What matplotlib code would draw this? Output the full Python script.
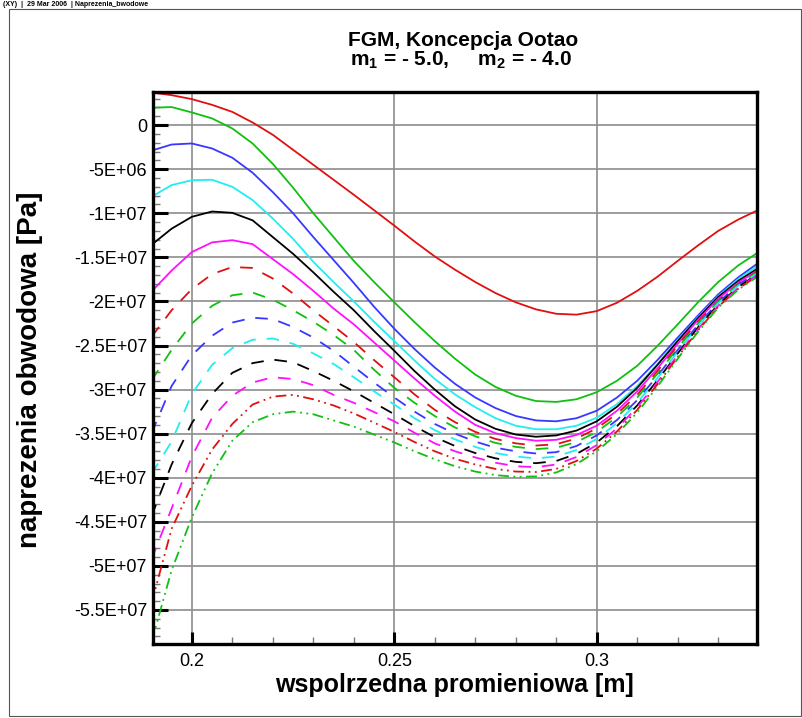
import numpy as np
import matplotlib.pyplot as plt
from matplotlib.ticker import MultipleLocator

plt.rcParams['font.family'] = ['Liberation Sans', 'DejaVu Sans']
plt.rcParams['mathtext.fontset'] = 'custom'
plt.rcParams['mathtext.rm'] = 'Liberation Sans:bold'
plt.rcParams['mathtext.it'] = 'Liberation Sans:bold'
plt.rcParams['mathtext.bf'] = 'Liberation Sans:bold'

# wspolrzedna promieniowa [m]
r = [0.19, 0.195, 0.2, 0.205, 0.21, 0.215, 0.22, 0.225, 0.23, 0.235, 0.24,
     0.245, 0.25, 0.255, 0.26, 0.265, 0.27, 0.275, 0.28, 0.285, 0.29,
     0.295, 0.3, 0.305, 0.31, 0.315, 0.32, 0.325, 0.33, 0.335, 0.34]

# naprezenia obwodowe [MPa], linie ciagle
s_red = [3.7, 3.4, 2.95, 2.3, 1.5, 0.3, -1.1, -2.8, -4.5, -6.2, -7.9,
         -9.65, -11.4, -13.2, -14.9, -16.4, -17.8, -19.05, -20.1, -20.9, -21.4,
         -21.5, -21.1, -20.15, -18.8, -17.2, -15.4, -13.65, -12.0, -10.7, -9.6]
s_green = [1.97, 2.05, 1.44, 0.76, -0.38, -2.08, -4.4, -7.1, -10.0, -12.7, -15.4,
           -17.8, -20.1, -22.35, -24.5, -26.5, -28.3, -29.7, -30.7, -31.3, -31.4,
           -31.1, -30.3, -29.0, -27.3, -25.05, -22.6, -20.1, -17.8, -15.9, -14.4]
s_blue = [-2.9, -2.2, -2.08, -2.65, -3.7, -5.4, -7.6, -10.0, -12.7, -15.3, -17.9,
          -20.6, -23.1, -25.4, -27.5, -29.35, -30.9, -32.1, -33.0, -33.5, -33.6,
          -33.25, -32.4, -30.9, -29.0, -26.65, -24.1, -21.6, -19.2, -17.25, -15.6]
s_cyan = [-8.15, -6.8, -6.25, -6.2, -7.0, -8.5, -10.6, -12.9, -15.5, -17.8, -20.0,
          -22.3, -24.5, -26.7, -28.8, -30.55, -32.0, -33.25, -34.1, -34.5, -34.5,
          -34.1, -33.2, -31.65, -29.6, -27.1, -24.4, -21.8, -19.4, -17.45, -15.9]
s_black = [-13.6, -11.75, -10.4, -9.8, -9.95, -10.8, -12.7, -14.6, -16.7, -18.9, -21.0,
           -23.35, -25.6, -27.9, -30.0, -31.9, -33.4, -34.45, -35.1, -35.35, -35.2,
           -34.65, -33.6, -31.95, -29.8, -27.2, -24.5, -21.9, -19.5, -17.65, -16.2]
s_magenta = [-18.9, -16.5, -14.4, -13.3, -13.05, -13.5, -15.2, -16.9, -18.8, -20.8, -22.6,
             -24.65, -26.7, -28.75, -30.7, -32.5, -34.0, -34.95, -35.5, -35.8, -35.7,
             -35.15, -34.1, -32.4, -30.2, -27.6, -24.8, -22.1, -19.7, -17.85, -16.4]

# linie przerywane
d_red = [-24.05, -21.0, -18.6, -16.9, -16.1, -16.2, -17.4, -19.1, -21.0, -22.8, -24.6,
         -26.65, -28.6, -30.55, -32.3, -33.7, -34.8, -35.6, -36.1, -36.35, -36.2,
         -35.55, -34.4, -32.75, -30.6, -27.9, -25.0, -22.3, -19.9, -18.0, -16.5]
d_green = [-29.0, -25.5, -22.5, -20.5, -19.3, -19.0, -19.8, -21.0, -22.3, -23.8, -25.5,
           -27.75, -29.8, -31.5, -33.0, -34.3, -35.3, -36.05, -36.5, -36.75, -36.6,
           -35.95, -34.8, -33.1, -30.9, -28.2, -25.3, -22.5, -20.0, -18.05, -16.6]
d_blue = [-35.0, -29.6, -26.1, -23.9, -22.4, -21.85, -22.0, -22.9, -24.1, -25.6, -27.4,
          -29.2, -30.9, -32.5, -33.9, -35.0, -35.9, -36.6, -37.0, -37.25, -37.1,
          -36.4, -35.2, -33.45, -31.2, -28.45, -25.5, -22.65, -20.1, -18.1, -16.6]
d_cyan = [-39.6, -35.9, -30.5, -27.2, -25.3, -24.35, -24.2, -24.8, -25.9, -27.1, -28.6,
          -30.2, -31.7, -33.25, -34.6, -35.65, -36.5, -37.2, -37.6, -37.8, -37.6,
          -36.85, -35.6, -33.8, -31.5, -28.7, -25.7, -22.8, -20.2, -18.2, -16.7]
d_black = [-44.4, -38.5, -33.8, -30.5, -28.1, -27.0, -26.6, -26.9, -27.9, -29.0, -30.2,
           -31.5, -32.8, -34.15, -35.4, -36.4, -37.2, -37.8, -38.2, -38.35, -38.1,
           -37.3, -36.0, -34.15, -31.8, -28.95, -25.9, -22.95, -20.35, -18.35, -16.8]
d_magenta = [-49.3, -43.5, -37.6, -33.2, -30.7, -29.2, -28.6, -28.8, -29.5, -30.6, -31.5,
             -32.55, -33.6, -34.9, -36.1, -37.0, -37.7, -38.3, -38.7, -38.8, -38.5,
             -37.65, -36.3, -34.4, -32.0, -29.15, -26.1, -23.15, -20.5, -18.45, -16.9]

# linie kreska-kropka-kropka
dd_red = [-54.3, -45.8, -40.9, -36.8, -33.9, -31.7, -30.8, -30.6, -31.1, -31.8, -32.7,
          -33.75, -34.8, -35.95, -37.0, -37.85, -38.5, -39.0, -39.3, -39.35, -39.0,
          -38.1, -36.7, -34.75, -32.3, -29.4, -26.3, -23.3, -20.6, -18.55, -17.0]
dd_green = [-58.7, -50.5, -44.5, -39.5, -35.8, -33.7, -32.8, -32.5, -32.8, -33.5, -34.2,
            -35.1, -36.0, -37.0, -37.9, -38.7, -39.3, -39.7, -39.9, -39.85, -39.4,
            -38.45, -37.0, -35.05, -32.6, -29.65, -26.5, -23.45, -20.7, -18.65, -17.1]

ytick_vals = [0, -5e6, -1e7, -1.5e7, -2e7, -2.5e7, -3e7, -3.5e7, -4e7, -4.5e7, -5e7, -5.5e7]
ytick_labels = ['0', '-5E+06', '-1E+07', '-1.5E+07', '-2E+07', '-2.5E+07', '-3E+07',
                '-3.5E+07', '-4E+07', '-4.5E+07', '-5E+07', '-5.5E+07']
xtick_vals = [0.2, 0.25, 0.3]
xtick_labels = ['0.2', '0.25', '0.3']

red = '#e01010'
green = '#10c010'
blue = '#3838ff'
cyan = '#20eef0'
black = '#000000'
magenta = '#ff10ff'

dash = (0, (7, 6))
dashdotdot = (0, (6, 2.5, 1, 2.5, 1, 2.5))

curves = [
    (s_red, red, '-'), (s_green, green, '-'), (s_blue, blue, '-'),
    (s_cyan, cyan, '-'), (s_black, black, '-'), (s_magenta, magenta, '-'),
    (d_red, red, dash), (d_green, green, dash), (d_blue, blue, dash),
    (d_cyan, cyan, dash), (d_black, black, dash), (d_magenta, magenta, dash),
    (dd_red, red, dashdotdot), (dd_green, green, dashdotdot),
]

fig = plt.figure(figsize=(8.03, 7.18), dpi=100)
ax = fig.add_axes([0.190, 0.1026, 0.7523, 0.7688])

x = np.array(r)
for vals, col, ls in curves:
    ax.plot(x, np.array(vals) * 1e6, color=col, linestyle=ls, linewidth=1.3)

ax.set_xlim(0.1903, 0.3395)
ax.set_ylim(-5.89e7, 3.72e6)

ax.set_xticks(xtick_vals)
ax.set_xticklabels(xtick_labels)
ax.set_yticks(ytick_vals)
ax.set_yticklabels(ytick_labels)
ax.xaxis.set_minor_locator(MultipleLocator(0.01))
ax.yaxis.set_minor_locator(MultipleLocator(1e6))

ax.grid(True, which='major', color='#8c8c8c', linewidth=1.2)
ax.set_axisbelow(True)

ax.tick_params(which='major', direction='in', length=11, width=2.2, color='black',
               labelsize=13, top=False, right=False)
ax.tick_params(axis='x', which='major', length=9, pad=6)
ax.tick_params(axis='y', which='major', pad=4)
ax.tick_params(which='minor', direction='in', length=5, width=1.0, color='#7a7a7a',
               top=False, right=False)

for sp in ax.spines.values():
    sp.set_linewidth(2.4)
    sp.set_zorder(5)

# opisy osi
fig.text(0.5664, 1 - 685 / 718, 'wspolrzedna promieniowa [m]', ha='center', va='center',
         fontsize=18, fontweight='bold')
fig.text(30 / 803, 1 - 370 / 718, 'naprezenia obwodowa [Pa]', ha='center', va='center',
         rotation=90, fontsize=20, fontweight='bold')

# tytul
fig.text(463 / 803, 1 - 46 / 718, 'FGM, Koncepcja Ootao', ha='center', va='baseline',
         fontsize=15, fontweight='bold')
fig.text(461 / 803, 1 - 66 / 718, 'm$_1$ = - 5.0,     m$_2$ = - 4.0', ha='center',
         va='baseline', fontsize=15, fontweight='bold')

# ramka strony i naglowek
frame = plt.Rectangle((9 / 803, 2 / 718), 792 / 803, 707 / 718, transform=fig.transFigure,
                      fill=False, edgecolor='#555555', linewidth=0.8)
fig.add_artist(frame)
fig.text(3 / 803, 1 - 4 / 718, '(XY)  |  29 Mar 2006  | Naprezenia_bwodowe', ha='left',
         va='center', fontsize=5, fontweight='bold')

fig.savefig('out.png', dpi=100)
